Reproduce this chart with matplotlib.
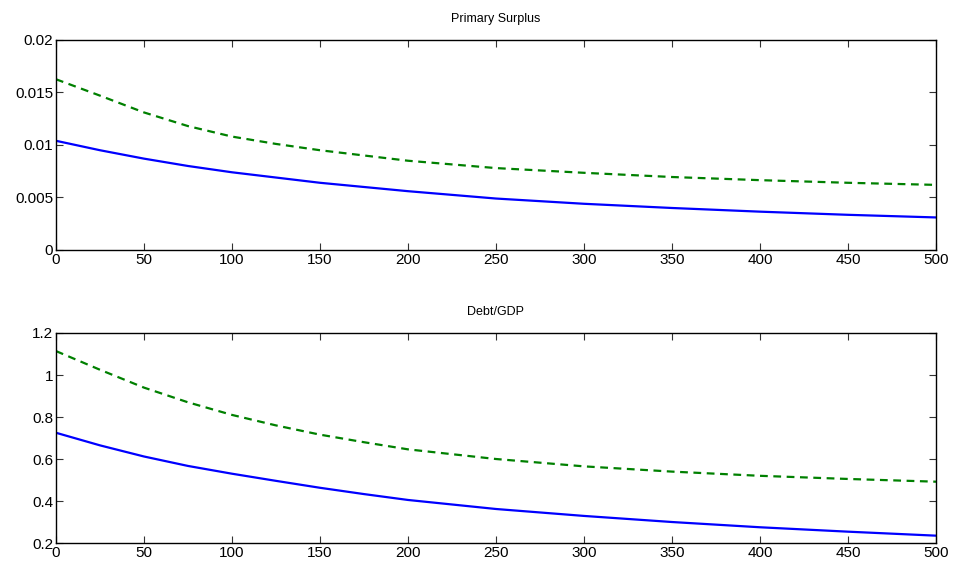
import numpy as np
import matplotlib.pyplot as plt

plt.rcParams['font.family'] = ['Liberation Sans', 'DejaVu Sans']

# horizon (periods)
t = [0, 25, 50, 75, 100, 125, 150, 175, 200, 250, 300, 350, 400, 450, 500]

# primary surplus
surplus_solid = [0.0104, 0.0095, 0.0087, 0.0080, 0.0074, 0.0069, 0.0064, 0.0060, 0.0056,
                 0.0049, 0.0044, 0.0040, 0.00365, 0.00335, 0.0031]
surplus_dash = [0.01626, 0.0147, 0.0131, 0.0118, 0.0108, 0.0101, 0.0095, 0.0090, 0.0085,
                0.0078, 0.00735, 0.00695, 0.00665, 0.0064, 0.0062]

# debt / gdp
debt_solid = [0.725, 0.665, 0.612, 0.567, 0.530, 0.496, 0.463, 0.433, 0.405,
              0.362, 0.329, 0.300, 0.275, 0.254, 0.235]
debt_dash = [1.114, 1.025, 0.94, 0.87, 0.81, 0.76, 0.716, 0.68, 0.646,
             0.60, 0.565, 0.540, 0.520, 0.505, 0.492]

xticks = [0, 50, 100, 150, 200, 250, 300, 350, 400, 450, 500]
yticks_top = [0, 0.005, 0.01, 0.015, 0.02]
ylabels_top = ['0', '0.005', '0.01', '0.015', '0.02']
yticks_bot = [0.2, 0.4, 0.6, 0.8, 1.0, 1.2]
ylabels_bot = ['0.2', '0.4', '0.6', '0.8', '1', '1.2']

fig = plt.figure(figsize=(9.55, 5.67), dpi=100)
ax1 = fig.add_axes([0.0586, 0.5591, 0.9215, 0.3704])
ax2 = fig.add_axes([0.0586, 0.0423, 0.9215, 0.3704])

panels = [
    (ax1, surplus_solid, surplus_dash, 'Primary Surplus', (0, 0.02), yticks_top, ylabels_top),
    (ax2, debt_solid, debt_dash, 'Debt/GDP', (0.2, 1.2), yticks_bot, ylabels_bot),
]

for ax, solid, dash, title, ylim, yt, yl in panels:
    ax.plot(t, solid, color='#0000ff', lw=1.6)
    ax.plot(t, dash, color='#008000', lw=1.6, ls=(0, (3.5, 2.5)))
    ax.set_xlim(0, 500)
    ax.set_ylim(*ylim)
    ax.set_xticks(xticks)
    ax.set_xticklabels([str(v) for v in xticks])
    ax.set_yticks(yt)
    ax.set_yticklabels(yl)
    ax.tick_params(direction='in', length=5, width=0.8, top=True, right=True,
                   labelsize=11, colors='#333333', labelcolor='black', pad=2)
    for s in ax.spines.values():
        s.set_linewidth(1.0)
    ax.set_title(title, fontsize=9, pad=13)

fig.savefig('out.png', dpi=100)
